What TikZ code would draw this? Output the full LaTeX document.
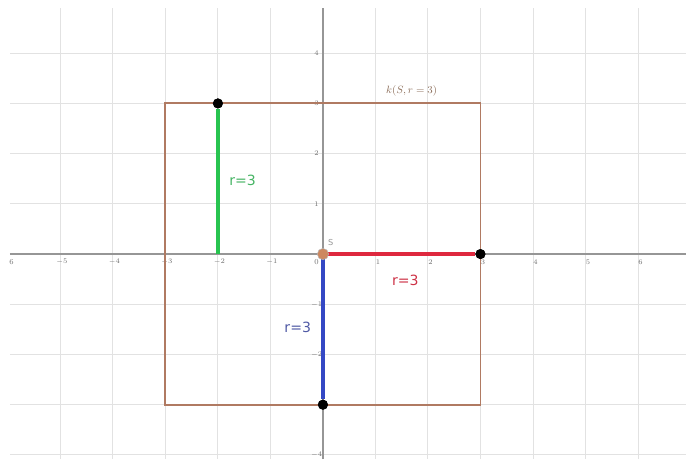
\documentclass[tikz,border=0pt]{standalone}
\usepackage{fontspec}
\setsansfont{DejaVu Sans}
\usepackage{tikz}
\usetikzlibrary{positioning}
\usepackage{xcolor}
\definecolor{GL}{RGB}{226,226,226}
\definecolor{AX}{RGB}{150,150,150}
\definecolor{TK}{RGB}{110,110,110}
\definecolor{BR}{RGB}{176,122,98}
\definecolor{SG}{RGB}{40,196,80}
\definecolor{SR}{RGB}{222,40,62}
\definecolor{SB}{RGB}{52,72,196}
\definecolor{SO}{RGB}{205,136,96}
\definecolor{LG}{RGB}{70,180,100}
\definecolor{LR}{RGB}{205,50,70}
\definecolor{LB}{RGB}{80,90,165}
\definecolor{KT}{RGB}{140,110,90}

\begin{document}
\begin{tikzpicture}[
  x=1.575cm, y=1.506cm,
  grid/.style={draw=GL, line width=0.8pt},
  axis/.style={draw=AX, line width=1.1pt},
  tick/.style={font=\fontsize{6.5}{7}\selectfont, text=TK, inner sep=1pt},
  square/.style={draw=BR, line width=1.6pt},
  seg/.style={line width=3pt},
  dot/.style={circle, fill=black, minimum size=0.3cm, inner sep=0pt},
  sdot/.style={circle, fill=SO, draw=AX!70, line width=0.4pt,
               minimum size=0.34cm, inner sep=0pt},
  rlbl/.style={font=\sffamily\fontsize{12}{14}\selectfont}
]
\useasboundingbox (-6.15,-4.084) rectangle (6.914,5.06);

% Grid
\foreach \y in {-4,...,4}{
  \draw[grid] (-5.96,\y) -- (6.914,\y);
}
\foreach \x in {-5,...,6}{
  \draw[grid] (\x,-4.084) -- (\x,4.9);
}

% Axes
\draw[axis] (-5.96,0) -- (6.914,0);
\draw[axis] (0,-4.084) -- (0,4.9);

% Tick labels
\node[tick] at (-5.93,-0.16) {6};
\foreach \x in {-5,...,-1}{
  \node[tick] at (\x+0.03,-0.16) {$\x$};
}
\foreach \x in {1,...,6}{
  \node[tick] at (\x+0.05,-0.16) {$\x$};
}
\node[tick] at (-0.12,-0.16) {0};
\foreach \y in {-4,...,-1,1,2,3,4}{
  \node[tick] at (-0.12,\y) {$\y$};
}

% Square k(S, r=3)
\draw[square] (-3,-3) rectangle (3,3);
\node[font=\small, text=KT] (klbl) at (1.69,3.25) {$k(S,r=3)$};

% Points
\coordinate (S) at (0,0);
\coordinate (Gfoot) at (-2,0);
\node[dot] (G) at (-2,3) {};
\node[dot] (R) at (3,0) {};
\node[dot] (B) at (0,-3) {};

% Radii
\draw[seg, SG] (Gfoot) -- (G);
\draw[seg, SR] (S) -- (R);
\draw[seg, SB] (S) -- (B);
\node[dot] at (G) {};
\node[dot] at (R) {};
\node[dot] at (B) {};
\node[sdot] (Sdot) at (S) {};
\node[font=\sffamily\fontsize{7}{8}\selectfont, text=AX] (Slbl) at (0.15,0.22) {S};

% Labels
\node[rlbl, text=LG] (lg) at (-1.53,1.47) {r=3};
\node[rlbl, text=LR] (lr) at (1.57,-0.52) {r=3};
\node[rlbl, text=LB] (lb) at (-0.48,-1.47) {r=3};
\end{tikzpicture}
\end{document}
